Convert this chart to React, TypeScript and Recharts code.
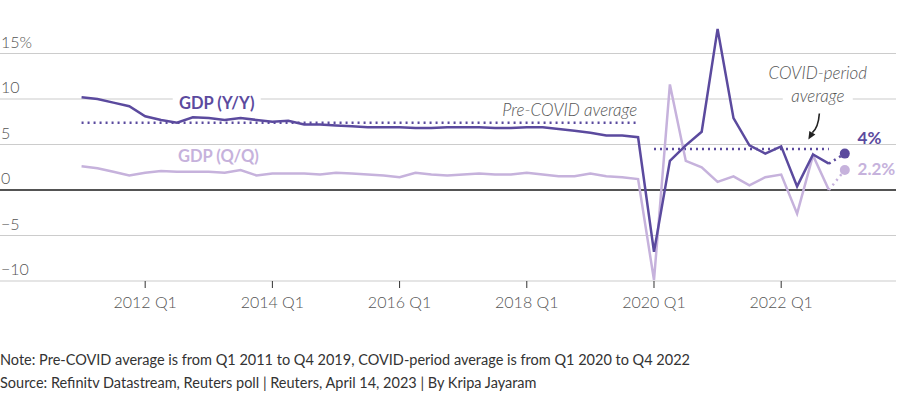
import React from "react";
import {
  LineChart,
  Line,
  XAxis,
  YAxis,
  CartesianGrid,
  ReferenceLine,
  ReferenceDot,
} from "recharts";

// China GDP growth, quarterly from 2011 Q1 to 2022 Q4 (%)
const gdpYY = [
  10.2, 10.0, 9.6, 9.2, 8.1, 7.7, 7.4, 8.0, 7.9, 7.7, 7.9, 7.7, 7.5, 7.6, 7.2,
  7.2, 7.1, 7.0, 6.9, 6.9, 6.9, 6.8, 6.8, 6.9, 6.9, 6.9, 6.8, 6.8, 6.9, 6.9,
  6.7, 6.5, 6.3, 6.0, 6.0, 5.8, -6.8, 3.2, 4.9, 6.4, 17.7, 7.9, 4.9, 4.0, 4.8,
  0.4, 3.9, 2.9,
];
const gdpQQ = [
  2.6, 2.4, 2.0, 1.6, 1.9, 2.1, 2.0, 2.0, 2.0, 1.9, 2.2, 1.6, 1.8, 1.8, 1.8,
  1.7, 1.9, 1.8, 1.7, 1.6, 1.4, 1.9, 1.7, 1.6, 1.7, 1.8, 1.7, 1.7, 1.9, 1.7,
  1.5, 1.5, 1.8, 1.5, 1.4, 1.2, -9.9, 11.6, 3.2, 2.5, 0.9, 1.5, 0.5, 1.4, 1.7,
  -2.6, 3.8, 0.0,
];
// Reuters poll forecast for 2023 Q1
const forecastYY = 4.0;
const forecastQQ = 2.2;

const preCovidAvg = 7.4;
const covidAvg = 4.5;

const tickIndex = [4, 12, 20, 28, 36, 44];
const tickLabels = ["2012 Q1", "2014 Q1", "2016 Q1", "2018 Q1", "2020 Q1", "2022 Q1"];
const yTicks = [-10, -5, 0, 5, 10, 15];

const DARK = "#5b4a9e";
const LIGHT = "#c6b2dc";
const FONT = "Lato, 'Open Sans', sans-serif";
const TOP = 8;

const last = gdpYY.length - 1;
const data = Array.from({ length: gdpYY.length + 1 }, (_, i) => ({
  i,
  yy: i <= last ? gdpYY[i] : null,
  qq: i <= last ? gdpQQ[i] : null,
  yyF: i === last ? gdpYY[last] : i === last + 1 ? forecastYY : null,
  qqF: i === last ? gdpQQ[last] : i === last + 1 ? forecastQQ : null,
}));

const renderYTick = (props: any) => {
  const { y, payload } = props;
  const v = payload.value;
  return (
    <text
      key={`yt${v}`}
      x={1}
      y={y - 6}
      fill="#555"
      fontSize={16}
      fontFamily={FONT}
      fontWeight={300}
      textAnchor="start"
    >
      {v === 15 ? "15%" : v < 0 ? `\u2212${Math.abs(v)}` : `${v}`}
    </text>
  );
};

// skip the edge line at the top of the plot, keep the tick lines
const gridLine = (p: any) =>
  p.y1 <= TOP + 2 ? (
    <g key={p.key} />
  ) : (
    <line
      key={p.key}
      x1={p.x1}
      x2={p.x2}
      y1={p.y1}
      y2={p.y2}
      stroke="#cccccc"
      strokeWidth={1.2}
    />
  );

const textShape =
  (text: string, color: string, opts: any = {}) =>
  (props: any) => {
    const { cx, cy } = props;
    const anchor = opts.anchor || "middle";
    return (
      <g>
        {opts.bg && (
          <rect
            x={cx - opts.bg / 2}
            y={cy - 10}
            width={opts.bg}
            height={20}
            fill="#fff"
          />
        )}
        <text
          x={cx}
          y={cy}
          textAnchor={anchor}
          dominantBaseline="central"
          fill={color}
          fontSize={opts.size || 17}
          fontWeight={opts.weight || 700}
          fontStyle={opts.italic ? "italic" : "normal"}
          fontFamily={FONT}
        >
          {text}
        </text>
      </g>
    );
  };

const arrowShape = (props: any) => {
  const { cx, cy } = props;
  const ex = cx - 11;
  const ey = cy + 26;
  const dx = -0.5;
  const dy = 0.866;
  const bx = ex - 8 * dx;
  const by = ey - 8 * dy;
  const px = 0.866;
  const py = 0.5;
  return (
    <g>
      <path
        d={`M${cx},${cy} Q${cx - 1},${cy + 14} ${bx},${by}`}
        stroke="#222"
        strokeWidth={1.6}
        fill="none"
      />
      <polygon
        points={`${ex},${ey} ${bx + 3.5 * px},${by + 3.5 * py} ${bx - 3.5 * px},${by - 3.5 * py}`}
        fill="#222"
      />
    </g>
  );
};

const forecastDot = (color: string) => (p: any) =>
  p.payload.i === last + 1 ? (
    <circle key={`d${p.index}`} cx={p.cx} cy={p.cy} r={5} fill={color} />
  ) : (
    <g key={`d${p.index}`} />
  );

export default function App() {
  return (
    <div style={{ position: "absolute", left: 0, top: 0, width: 900, height: 396, background: "#fff" }}>
      <LineChart
        width={900}
        height={396}
        data={data}
        margin={{ top: TOP, right: 4, bottom: 0, left: 0 }}
      >
        <CartesianGrid vertical={false} horizontal={gridLine} />
        <XAxis
          type="number"
          dataKey="i"
          domain={[-5.13, 51.22]}
          allowDataOverflow
          ticks={tickIndex}
          tickFormatter={(v: number) => tickLabels[tickIndex.indexOf(v)]}
          axisLine={false}
          tickLine={{ stroke: "#333" }}
          tickSize={7}
          tickMargin={9}
          height={115}
          tick={{ fill: "#555", fontSize: 16, fontFamily: FONT, fontWeight: 300 }}
        />
        <YAxis
          type="number"
          domain={[-10, 20]}
          ticks={yTicks}
          width={1}
          mirror
          axisLine={false}
          tickLine={false}
          tick={renderYTick}
        />
        <ReferenceLine y={0} stroke="#222" strokeWidth={1.6} />
        <ReferenceLine
          segment={[
            { x: 0, y: preCovidAvg },
            { x: 35, y: preCovidAvg },
          ]}
          stroke={DARK}
          strokeWidth={2.5}
          strokeDasharray="2 4"
        />
        <ReferenceLine
          segment={[
            { x: 36, y: covidAvg },
            { x: 47, y: covidAvg },
          ]}
          stroke={DARK}
          strokeWidth={2.5}
          strokeDasharray="2 4"
        />
        <Line
          dataKey="qq"
          stroke={LIGHT}
          strokeWidth={2.5}
          dot={false}
          isAnimationActive={false}
        />
        <Line
          dataKey="qqF"
          stroke={LIGHT}
          strokeWidth={2.5}
          strokeDasharray="2 4"
          dot={forecastDot(LIGHT)}
          isAnimationActive={false}
        />
        <Line
          dataKey="yy"
          stroke={DARK}
          strokeWidth={2.5}
          dot={false}
          isAnimationActive={false}
        />
        <Line
          dataKey="yyF"
          stroke={DARK}
          strokeWidth={2.5}
          strokeDasharray="2 4"
          dot={forecastDot(DARK)}
          isAnimationActive={false}
        />
        <ReferenceDot x={8.5} y={9.6} r={0} shape={textShape("GDP (Y/Y)", DARK, { bg: 88, size: 16.5 })} />
        <ReferenceDot x={8.6} y={3.7} r={0} shape={textShape("GDP (Q/Q)", LIGHT, { size: 16.5 })} />
        <ReferenceDot
          x={30.7}
          y={8.9}
          r={0}
          shape={textShape("Pre-COVID average", "#555", { italic: true, weight: 300 })}
        />
        <ReferenceDot
          x={46.3}
          y={12.9}
          r={0}
          shape={textShape("COVID-period", "#555", { italic: true, weight: 300 })}
        />
        <ReferenceDot
          x={46.3}
          y={10.4}
          r={0}
          shape={textShape("average", "#555", { italic: true, weight: 300, bg: 70 })}
        />
        <ReferenceDot x={46.4} y={8.4} r={0} shape={arrowShape} />
        <ReferenceDot x={48.8} y={5.8} r={0} shape={textShape("4%", DARK, { anchor: "start" })} />
        <ReferenceDot x={48.8} y={2.4} r={0} shape={textShape("2.2%", LIGHT, { anchor: "start" })} />
      </LineChart>
      <div
        style={{
          position: "absolute",
          left: 0,
          top: 348,
          fontFamily: FONT,
          fontSize: 14.5,
          color: "#333",
          lineHeight: "23px",
          whiteSpace: "nowrap",
        }}
      >
        <div>Note: Pre-COVID average is from Q1 2011 to Q4 2019, COVID-period average is from Q1 2020 to Q4 2022</div>
        <div>Source: Refinitv Datastream, Reuters poll | Reuters, April 14, 2023 | By Kripa Jayaram</div>
      </div>
    </div>
  );
}
